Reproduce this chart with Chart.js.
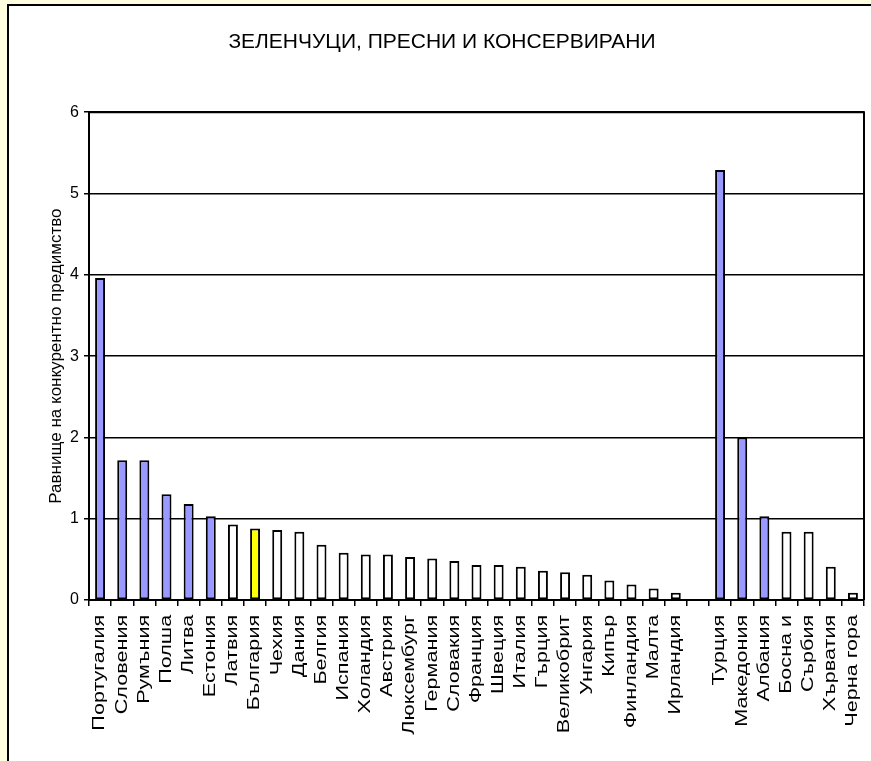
<!DOCTYPE html>
<html>
<head>
<meta charset="utf-8">
<script src="https://cdn.jsdelivr.net/npm/chart.js@4.4.1/dist/chart.umd.min.js"></script>
<style>
  html, body { margin: 0; padding: 0; background: #FFFFE0; overflow: hidden; }
  #frame {
    position: absolute; left: 7px; top: 4px; width: 900px; height: 800px;
    background: #fff; border: 2px solid #000;
  }
  #wrap { position: absolute; left: 0; top: 0; width: 871px; height: 761px; }
</style>
</head>
<body>
<div id="frame"></div>
<div id="wrap"><canvas id="chart"></canvas></div>
<script>
// categories (an empty slot separates EU countries from the others)
const countries = [
  "Португалия", "Словения", "Румъния", "Полша", "Литва", "Естония", "Латвия",
  "България", "Чехия", "Дания", "Белгия", "Испания", "Холандия", "Австрия",
  "Люксембург", "Германия", "Словакия", "Франция", "Швеция", "Италия", "Гърция",
  "Великобрит", "Унгария", "Кипър", "Финландия", "Малта", "Ирландия", "",
  "Турция", "Македония", "Албания", "Босна и", "Сърбия", "Хърватия", "Черна гора"
];
const advantage = [
  3.96, 1.72, 1.72, 1.30, 1.18, 1.03, 0.93,
  0.88, 0.86, 0.84, 0.68, 0.58, 0.56, 0.56,
  0.53, 0.51, 0.48, 0.43, 0.43, 0.41, 0.36,
  0.34, 0.31, 0.24, 0.19, 0.14, 0.09, null,
  5.29, 2.00, 1.03, 0.84, 0.84, 0.41, 0.09
];
// "lead" = advantage above 1, "bg" = Bulgaria, "" = the rest
const group = [
  "lead", "lead", "lead", "lead", "lead", "lead", "",
  "bg", "", "", "", "", "", "",
  "", "", "", "", "", "", "",
  "", "", "", "", "", "", "",
  "lead", "lead", "lead", "", "", "", ""
];
const yTicks = [0, 1, 2, 3, 4, 5, 6];

const groupColors = { lead: "#9999FF", bg: "#FFFF00", "": "#FFFFFF" };

// plot area frame (right + top edges)
const plotFrame = {
  id: "plotFrame",
  afterDatasetsDraw(chart) {
    const { ctx, chartArea: a } = chart;
    ctx.save();
    ctx.strokeStyle = "#000";
    ctx.lineWidth = 2;
    ctx.beginPath();
    ctx.moveTo(a.left, a.top);
    ctx.lineTo(a.right, a.top);
    ctx.lineTo(a.right, a.bottom);
    ctx.stroke();
    ctx.restore();
  }
};

// the original category labels are stretched along the text direction
const tallLabels = {
  id: "tallLabels",
  beforeDraw(chart) {
    const xs = chart.scales.x;
    if (xs._tall) return;
    const orig = xs.drawLabels;
    xs.drawLabels = function (area) {
      const ctx = this.ctx;
      const y0 = this.top;
      ctx.save();
      ctx.translate(0, y0);
      ctx.scale(1, 1.35);
      ctx.translate(0, -y0);
      orig.call(this, area);
      ctx.restore();
    };
    xs._tall = true;
  }
};

const font = "'Liberation Sans', Arial, sans-serif";

new Chart(document.getElementById("chart"), {
  type: "bar",
  data: {
    labels: countries,
    datasets: [{
      data: advantage,
      backgroundColor: group.map(g => groupColors[g]),
      borderColor: "#000",
      borderWidth: 2,
      borderSkipped: false,
      barPercentage: 0.45,
      categoryPercentage: 1
    }]
  },
  options: {
    responsive: true,
    maintainAspectRatio: false,
    animation: false,
    layout: { padding: { left: 20, right: 7, top: 0, bottom: 0 } },
    plugins: {
      legend: { display: false },
      tooltip: { enabled: false },
      title: {
        display: true,
        text: "ЗЕЛЕНЧУЦИ, ПРЕСНИ И КОНСЕРВИРАНИ",
        color: "#000",
        font: { family: font, size: 21, weight: "normal" },
        padding: { top: 30, bottom: 57 }
      }
    },
    scales: {
      x: {
        grid: {
          offset: true,
          drawOnChartArea: false,
          drawTicks: true,
          tickLength: 6,
          color: "#000",
          lineWidth: 1.5
        },
        border: { display: true, color: "#000", width: 2 },
        ticks: {
          autoSkip: false,
          minRotation: 90,
          maxRotation: 90,
          padding: 5,
          color: "#000",
          font: { family: font, size: 16 }
        },
        afterFit(scale) {
          scale.height = 161;
          scale.paddingLeft = 0;
          scale.paddingRight = 0;
        }
      },
      y: {
        min: 0,
        max: 6,
        afterBuildTicks(scale) { scale.ticks = yTicks.map(v => ({ value: v })); },
        grid: {
          color: "#000",
          lineWidth: 1.5,
          drawTicks: true,
          tickLength: 5
        },
        border: { display: true, color: "#000", width: 2 },
        ticks: {
          padding: 5,
          color: "#000",
          font: { family: font, size: 16 }
        },
        title: {
          display: true,
          text: "Равнище на конкурентно предимство",
          color: "#000",
          font: { family: font, size: 17 },
          padding: { top: 26, bottom: 0 }
        },
        afterFit(scale) { scale.width = 69; }
      }
    }
  },
  plugins: [plotFrame, tallLabels]
});
</script>
</body>
</html>
